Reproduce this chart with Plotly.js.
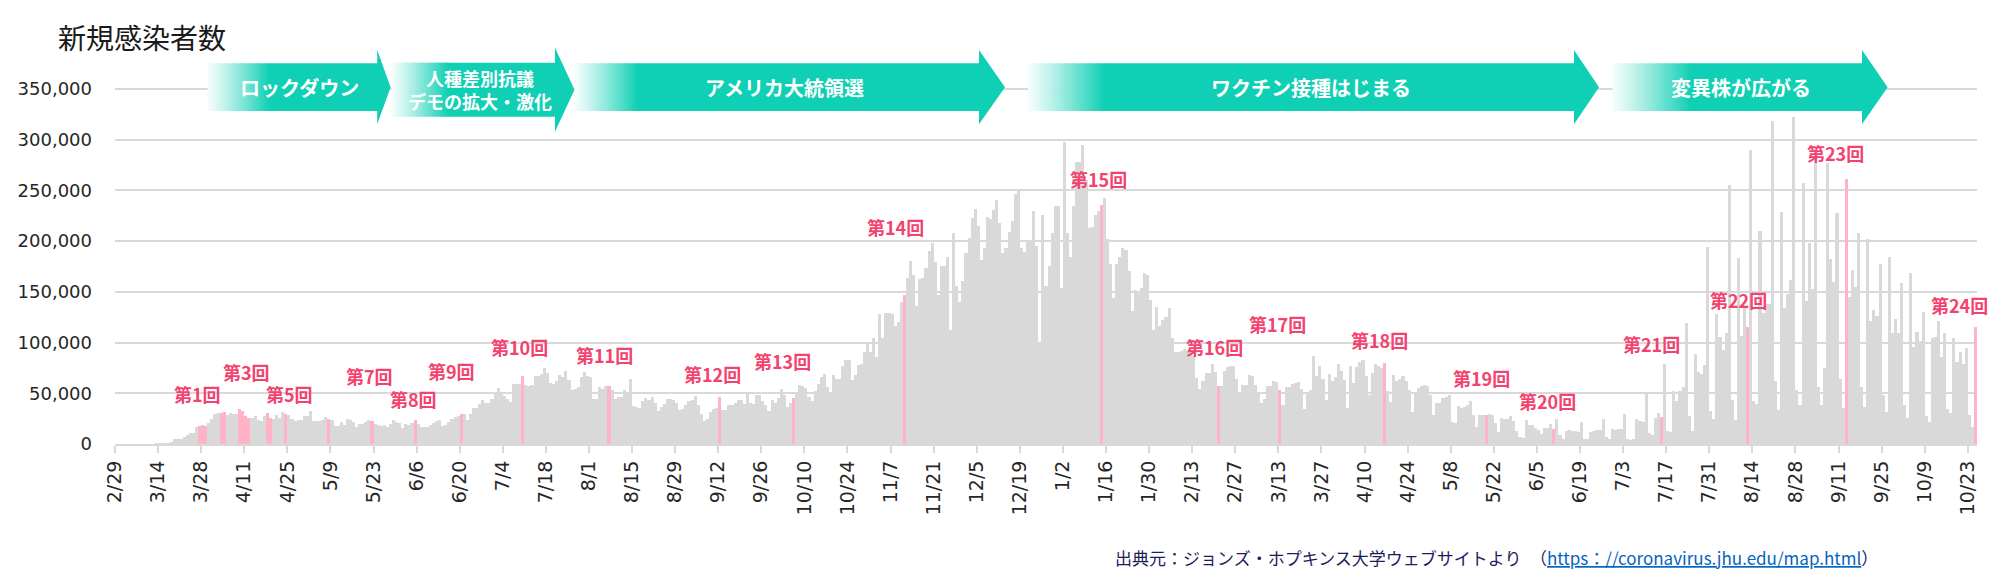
<!DOCTYPE html>
<html><head><meta charset="utf-8">
<script src="https://cdn.plot.ly/plotly-3.0.1.min.js"></script>
<style>body{margin:0;background:#fff}#chart{width:2005px;height:580px}</style>
</head><body><div id="chart"></div>
<script>
// ---------------- data ----------------
// daily new cases, 2020-02-29 .. 2020-12-31
const cases2020 = [
0,0,0,0,0,0,0,0,100,150,250,300,400,500,600,700,900,1200,
1600,4600,5000,5200,7000,9000,10500,11000,17000,18000,
18600,18000,21000,24500,30000,30300,30700,31300,29000,30300,
29800,29500,34000,33000,27500,25500,26000,27500,23500,23000,
28000,31000,26000,25000,28500,26000,32000,30000,29000,25000,
22500,23500,24000,27500,28000,33000,23000,23000,23000,23500,
26500,25000,23500,17600,17600,21500,18600,25000,23500,21500,
16700,20000,19600,22000,24000,22500,19600,18600,18000,18300,
17000,19600,23500,22000,21000,16000,19600,18600,20600,23500,
19600,16700,16700,
16300,18600,21000,23000,23500,18000,18600,22000,25000,27000,
27800,30000,30000,23500,29400,35000,35000,39000,43800,40000,
40000,44800,49700,55000,50000,47700,44800,41000,58800,58800,
59500,66700,58000,57000,58000,67000,67000,69000,74500,70000,
60500,59500,62400,68000,66000,72000,63400,53000,54000,56000,
65700,70600,66700,66000,44000,44000,56000,54000,57500,57500,
53000,44400,46400,46400,53600,49000,63700,37000,36600,35600,
42000,45800,43000,46400,40500,32700,36600,39000,44000,44000,
43000,40000,33300,34000,38600,42500,43000,47000,38600,29400,
22500,24500,31700,34000,35000,46400,33300,33300,38000,38000,
40000,43000,
43000,39000,51000,40000,39000,48000,48000,42000,38000,33000,
43000,40000,45000,54600,48000,36600,40000,45800,51000,58500,
57000,55000,46400,42000,52000,59500,66000,69000,56000,50700,
67700,63800,63800,76900,83000,83000,62800,67700,77500,79000,
91000,100000,91000,104700,85700,127600,104700,129000,129000,127600,
115800,120000,139700,147000,164000,180000,166800,136400,162600,163600,
173400,190400,197600,179000,147000,175700,175700,183800,112500,207700,
156000,140300,161000,188000,203000,223000,232000,215000,181000,193600,
224000,222000,231000,240000,217500,188000,193600,209000,219800,246000,
251500,192700,188700,198600,198600,229600,194600,98800,226000,
156000,175000,208000,234000,234000
];
// daily new cases, 2021-01-01 .. 2021-10-25
const cases2021 = [
154000,298000,208000,184000,234000,278000,278000,295000,260000,213000,
214000,226000,230000,235000,242000,202000,177000,144000,177000,184500,
193600,191000,170000,131500,151800,150000,153700,168500,166800,142000,
112500,134800,115800,121700,125000,134000,104000,90600,91000,92000,
94000,93000,90600,87000,65400,54600,61800,70000,70000,79000,
71000,57000,57000,72000,76000,77000,77000,64400,51000,58500,
58000,67700,67000,58000,49700,40600,44800,57000,57000,62000,
61000,53600,38300,56000,56000,59500,60500,61000,54600,34000,
51000,53000,86700,67000,77000,63800,43800,69000,62000,66000,
79000,72000,62800,35000,77000,60500,
75800,80700,83000,67000,48000,70000,78400,76800,74800,80000,
52300,41500,68300,62000,63700,67000,62000,53600,31700,49700,
55200,56900,58500,56900,48000,29000,40500,40800,45400,46400,
48000,21200,21000,37300,35000,36600,38200,42800,29000,17000,
29000,29000,29000,30000,28400,20300,12000,26000,25000,25000,
27800,22900,13000,7200,6200,23500,18600,18600,15400,13400,
9500,15400,15400,19600,14400,25000,8800,4900,12700,13700,
12700,12700,12000,21200,4900,4600,12000,12700,13400,13700,
24200,7200,4900,14400,13700,14400,14700,30000,4900,3900,
4600,24200,22900,21900,49000,10500,8800,
26000,31000,27000,78700,12500,11500,51800,42600,51800,55700,
119000,27200,12500,88500,71000,68900,77700,194000,32800,24600,
127900,105900,92800,109800,254700,43300,23900,183600,106600,134400,
115700,290000,42600,39300,209500,128900,137700,137700,318700,61600,
33400,228900,134400,147500,161300,322000,53000,38400,257400,141000,
197700,152500,290000,56400,38700,74400,276400,182000,159700,227200,
63900,35400,260700,144900,171000,154800,207500,56400,36700,201600,
121300,131800,126200,177000,48200,31100,184600,109200,123000,109800,
158400,38400,25200,168900,95100,110800,101000,130500,27900,22000,
104300,105900,121300,85900,108900,34400,30500,104300,81000,91100,
78700,94400,28500,16400,115700
];
// days highlighted in pink (dates of each survey round)
const pinkDates = [
'2020-03-27','2020-03-28','2020-03-29','2020-04-03','2020-04-04',
'2020-04-09','2020-04-10','2020-04-11','2020-04-12','2020-04-18','2020-04-19',
'2020-04-24','2020-05-08','2020-05-22','2020-06-05','2020-06-20','2020-07-10',
'2020-08-07','2020-09-12','2020-10-06','2020-11-11','2021-01-14','2021-02-21',
'2021-03-13','2021-04-16','2021-05-19','2021-06-10','2021-07-15','2021-08-12',
'2021-09-13','2021-10-25'
];
const tickLabels = ['2/29','3/14','3/28','4/11','4/25','5/9','5/23','6/6','6/20','7/4','7/18',
'8/1','8/15','8/29','9/12','9/26','10/10','10/24','11/7','11/21','12/5','12/19',
'1/2','1/16','1/30','2/13','2/27','3/13','3/27','4/10','4/24','5/8','5/22','6/5',
'6/19','7/3','7/17','7/31','8/14','8/28','9/11','9/25','10/9','10/23'];
const yTickVals = [0,50000,100000,150000,200000,250000,300000,350000];
const roundNames = ['第1回','第3回','第5回','第7回','第8回','第9回','第10回','第11回','第12回',
'第13回','第14回','第15回','第16回','第17回','第18回','第19回','第20回','第21回','第22回',
'第23回','第24回'];
const phaseNames = [['ロックダウン'],['人種差別抗議','デモの拡大・激化'],['アメリカ大統領選'],
['ワクチン接種はじまる'],['変異株が広がる']];

// ---------------- build ----------------
const dailyCases = cases2020.concat(cases2021);
const dayMs = 86400000, t0 = Date.UTC(2020,1,29);
const dates = dailyCases.map((_, i) => new Date(t0 + i*dayMs).toISOString().slice(0,10));
const GRAY = '#D9D9D9', PINK = '#FFB3C6', TEAL = [15,207,180];
const barColors = dates.map(d => pinkDates.includes(d) ? PINK : GRAY);
const tickVals = tickLabels.map((_, i) => dates[14*i]);

const W = 2005, H = 580, PL = 115, PR = 28, PT = 38, PB = 136;
const PW = W - PL - PR, PH = H - PT - PB;
const px = v => (v - PL) / PW;
const py = v => (PT + PH - v) / PH;

// label placement (pixels)
const roundPos = [[197,394],[246,372],[289,394],[369,376],[413,399],[451,371],[519,347],[604,355],
[712,374],[782,361],[895,227],[1098,179],[1214,347],[1277,324],[1379,340],[1481,378],[1547,401],
[1651,344],[1738,300],[1835,153],[1959,305]];

const annotations = roundNames.map((t, i) => ({
  text: '<b>' + t + '</b>', xref: 'paper', yref: 'paper', x: px(roundPos[i][0]), y: py(roundPos[i][1]),
  xanchor: 'center', yanchor: 'middle', showarrow: false,
  font: {family: 'Noto Sans CJK JP', size: 18, color: '#F4426F'}
}));

const arrowGeom = [
 {L:207.6, g:270, R:377.2, tip:390.6, top:63.3, bot:111, htop:50, hbot:124.3, tx:299, ty:87},
 {L:391.5, g:448, R:555, tip:574.5, top:62.7, bot:116.7, htop:47.7, hbot:131.7, tx:480, ty:90},
 {L:574.5, g:638, R:979, tip:1005, top:63.3, bot:111, htop:50, hbot:124.3, tx:784, ty:87},
 {L:1028, g:1105, R:1574, tip:1599, top:63.3, bot:111, htop:50, hbot:124.3, tx:1311, ty:87},
 {L:1612.5, g:1691, R:1862, tip:1887.6, top:63.3, bot:111, htop:50, hbot:124.3, tx:1741, ty:87}
];
const shapes = [];
const mix = t => 'rgb(' + TEAL.map(c => Math.round(255 + (c - 255) * t)).join(',') + ')';
arrowGeom.forEach((a, k) => {
  const N = 30;
  for (let i = 0; i < N; i++) {
    const x0 = a.L + (a.g - a.L) * i / N, x1 = a.L + (a.g - a.L) * (i + 1) / N + 0.7;
    const t = 0.04 + 0.96 * Math.pow((i + 0.5) / N, 1.15);
    shapes.push({type:'rect', xref:'paper', yref:'paper', x0:px(x0), x1:px(x1), y0:py(a.bot), y1:py(a.top),
      fillcolor: mix(t), line:{width:0}, layer:'above'});
  }
  const ty = (a.top + a.bot) / 2;
  const pts = [[a.g - 0.3, a.top],[a.R, a.top],[a.R, a.htop],[a.tip, ty],[a.R, a.hbot],[a.R, a.bot],[a.g - 0.3, a.bot]];
  shapes.push({type:'path', xref:'paper', yref:'paper',
    path: 'M' + pts.map(p => px(p[0]).toFixed(6) + ',' + py(p[1]).toFixed(6)).join('L') + 'Z',
    fillcolor: mix(1), line:{width:0}, layer:'above'});
  annotations.push({text: '<b>' + phaseNames[k].join('<br>') + '</b>', xref:'paper', yref:'paper',
    x: px(a.tx), y: py(a.ty), xanchor:'center', yanchor:'middle', showarrow:false,
    font:{family:'Noto Sans CJK JP', size: k === 1 ? 18 : 20, color:'#FFFFFF'}});
});

annotations.push({
  text: '出典元：ジョンズ・ホプキンス大学ウェブサイトより　（<span style="color:#0563C1;text-decoration:underline">https：//coronavirus.jhu.edu/map.html</span>）',
  xref:'paper', yref:'paper', x: px(1880), y: py(557), xanchor:'right', yanchor:'middle', showarrow:false,
  font:{family:'Noto Sans CJK JP', size:17, color:'#1C1C5A'}
});

const trace = {
  type:'bar', x: dates.map(d => d + ' 12:00'), y: dailyCases,
  marker:{color: barColors, line:{width:0}}, hoverinfo:'skip'
};

const layout = {
  width: W, height: H, margin:{l:PL, r:PR, t:PT, b:PB},
  paper_bgcolor:'#fff', plot_bgcolor:'#fff', showlegend:false, bargap:0,
  title:{text:'新規感染者数', font:{family:'Noto Sans CJK JP', size:28, color:'#1A1A1A'},
    xref:'container', yref:'container', x:58/W, xanchor:'left', y:1-39/H, yanchor:'middle'},
  xaxis:{type:'date', range:['2020-02-29 00:00','2021-10-26 00:00'], showgrid:false, zeroline:false,
    showline:true, linecolor:GRAY, linewidth:2, ticks:'outside', ticklen:7, tickwidth:2, tickcolor:GRAY,
    tickvals: tickVals, ticktext: tickLabels, tickangle:-90,
    tickfont:{family:'DejaVu Sans', size:19, color:'#262626'}, fixedrange:true},
  yaxis:{range:[0,400000], tickvals:yTickVals, tickformat:',', showgrid:true, gridcolor:GRAY, gridwidth:2,
    zeroline:false, showline:false, ticks:'', ticklabelstandoff:22,
    tickfont:{family:'DejaVu Sans', size:18, color:'#262626'}, fixedrange:true},
  shapes: shapes, annotations: annotations, hovermode:false
};
Plotly.newPlot('chart', [trace], layout, {displayModeBar:false, staticPlot:true});
</script></body></html>
